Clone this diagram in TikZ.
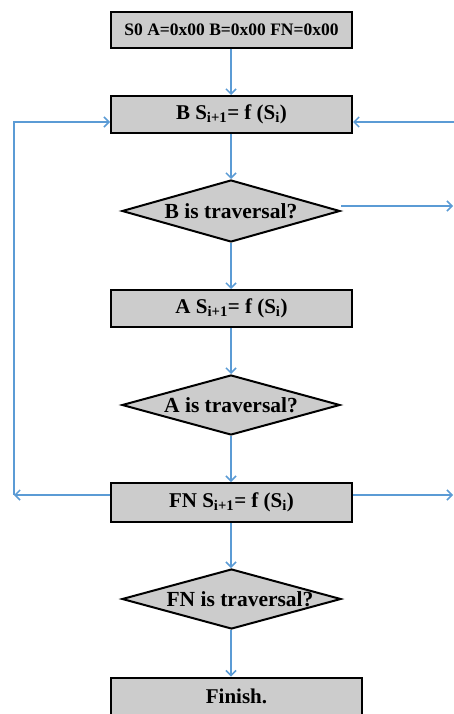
\documentclass[tikz,border=0pt]{standalone}
\usepackage{fontspec}
\setmainfont{Liberation Serif}
\usetikzlibrary{shapes.geometric,arrows.meta}
\definecolor{arrblue}{RGB}{91,155,213}
\definecolor{boxgray}{RGB}{204,204,204}
\tikzset{
  pbox/.style={draw=black,line width=2pt,fill=boxgray,rectangle,inner sep=0pt,
    minimum width=241pt,minimum height=37pt,font=\bfseries\fontsize{21}{23}\selectfont},
  dia/.style={draw=black,line width=2pt,fill=boxgray,diamond,inner sep=0pt,aspect=3.5,
    minimum width=218pt,minimum height=62pt},
  dtext/.style={font=\bfseries\fontsize{21.5}{23}\selectfont,inner sep=0pt},
  arr/.style={draw=arrblue,line width=1.5pt,-{Straight Barb[length=5pt,width=10pt,line width=1.5pt]}},
  ln/.style={draw=arrblue,line width=1.5pt}
}
\begin{document}
\begin{tikzpicture}[x=1pt,y=-1pt]
\useasboundingbox (0,0) rectangle (454,714);
\node[pbox,font=\bfseries\fontsize{17.5}{19}\selectfont,minimum height=36pt] (s0) at (231.5,30) {S0 A=0x00 B=0x00 FN=0x00};
\node[pbox] (b) at (231.5,114.5) {B S\textsubscript{i+1}= f (S\textsubscript{i})};
\node[dia] (db) at (231,211) {};
\node[dtext] (tb) at (231,211) {B is traversal?};
\node[pbox] (a) at (231.5,308.5) {A S\textsubscript{i+1}= f (S\textsubscript{i})};
\node[dia,minimum height=60pt] (da) at (231,405) {};
\node[dtext] (ta) at (231,405) {A is traversal?};
\node[pbox,minimum height=39pt] (fn) at (231.5,502.5) {FN S\textsubscript{i+1}= f (S\textsubscript{i})};
\node[dia,minimum height=60pt,minimum width=219pt] (dfn) at (231.5,599) {};
\node[dtext] (tfn) at (240,599) {FN is traversal?};
\node[pbox,minimum width=251pt,minimum height=37pt] (fin) at (236.5,696) {Finish.};
% vertical connectors
\draw[arr] (s0.south -| 231,0) -- (b.north -| 231,0);
\draw[arr] (b.south -| 231,0) -- (db.north);
\draw[arr] (db.south) -- (a.north -| 231,0);
\draw[arr] (a.south -| 231,0) -- (da.north);
\draw[arr] (da.south) -- (fn.north -| 231,0);
\draw[arr] (fn.south -| 231,0) -- (dfn.north -| 231,0);
\draw[arr] (dfn.south -| 231,0) -- (fin.north -| 231,0);
% side connectors
\coordinate (l1) at (14,495);
\coordinate (l2) at (14,122);
\coordinate (r1) at (454,122);
\coordinate (r2) at (453,206);
\coordinate (r3) at (453,495);
\draw[arr] (fn.west |- l1) -- (l1);
\draw[arr] (l1) -- (l2) -- (b.west |- l2);
\draw[arr] (r1) -- (b.east |- r1);
\draw[arr] (db.east |- r2) -- (r2);
\draw[arr] (fn.east |- r3) -- (r3);
\end{tikzpicture}
\end{document}
